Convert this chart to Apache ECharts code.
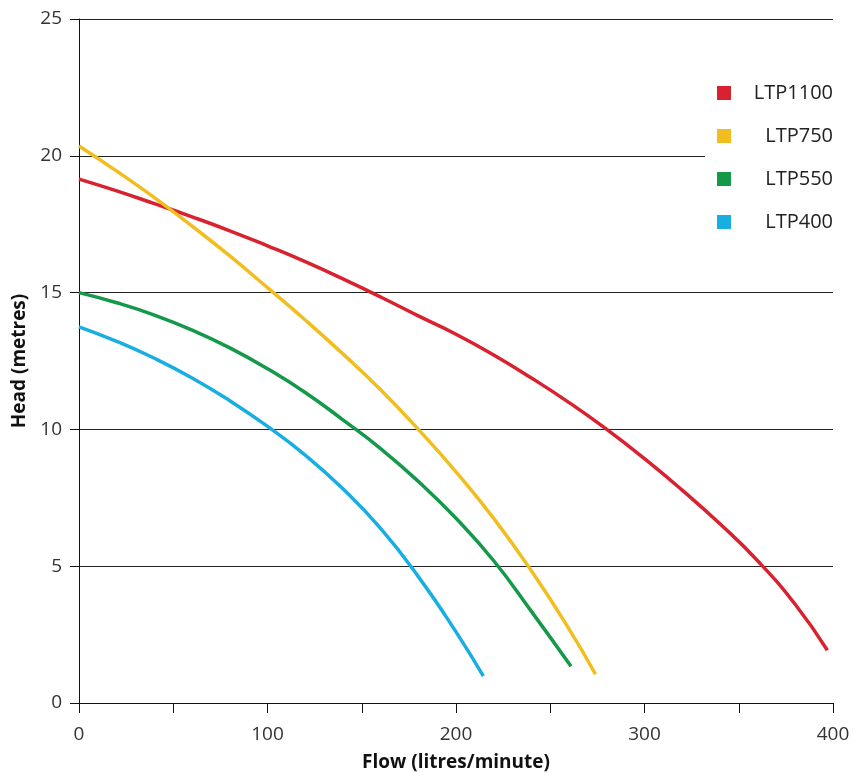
<!DOCTYPE html>
<html>
<head>
<meta charset="UTF-8">
<title>Pump curves</title>
<style>
  html, body { margin: 0; padding: 0; background: #fff; }
  #main { width: 856px; height: 773px; }
</style>
</head>
<body>
<div id="main"></div>
<script src="https://cdn.jsdelivr.net/npm/echarts@6/dist/echarts.min.js"></script>
<script>
// pump names (legend order)
var pumps = ['LTP1100', 'LTP750', 'LTP550', 'LTP400'];

// [flow (litres/minute), head (metres)]
var ltp1100 = [[0, 19.15], [20, 18.72], [40, 18.25], [60, 17.77], [80, 17.26], [100, 16.71],
               [120, 16.13], [140, 15.5], [160, 14.84], [180, 14.15], [200, 13.48], [220, 12.72],
               [240, 11.88], [260, 10.98], [280, 10.0], [300, 8.93], [320, 7.78], [340, 6.55],
               [360, 5.2], [380, 3.6], [397, 1.93]];
var ltp750  = [[0, 20.36], [20, 19.44], [40, 18.47], [60, 17.43], [80, 16.34], [100, 15.18],
               [120, 14.0], [140, 12.76], [160, 11.45], [180, 10.0], [200, 8.45], [220, 6.75],
               [240, 4.83], [260, 2.7], [274, 1.05]];
var ltp550  = [[0, 15.0], [20, 14.63], [40, 14.18], [60, 13.63], [80, 12.98], [100, 12.22],
               [120, 11.35], [140, 10.35], [160, 9.3], [180, 8.1], [200, 6.75], [220, 5.2],
               [240, 3.35], [261, 1.34]];
var ltp400  = [[0, 13.75], [20, 13.22], [40, 12.6], [60, 11.88], [80, 11.05], [100, 10.11],
               [120, 9.06], [140, 7.83], [160, 6.38], [180, 4.62], [200, 2.6], [214.5, 0.98]];

// axis ticks
var flowTicks = [0, 100, 200, 300, 400];
var headTicks = [0, 5, 10, 15, 20, 25];

var colors = ['#d8222f', '#f2bd1f', '#14994a', '#19aee2'];
var curves = [ltp1100, ltp750, ltp550, ltp400];

var font = 'Open Sans';
var chart = echarts.init(document.getElementById('main'));

var series = [];
for (var i = 0; i < pumps.length; i++) {
    series.push({
        name: pumps[i],
        type: 'line',
        data: curves[i],
        smooth: 0.5,
        showSymbol: false,
        lineStyle: { color: colors[i], width: 3.5 },
        itemStyle: { color: colors[i] }
    });
}

chart.setOption({
    animation: false,
    backgroundColor: '#fff',
    textStyle: { fontFamily: font },
    grid: { left: 79, right: 23, top: 19, bottom: 70, outerBoundsMode: 'none', containLabel: false },
    legend: {
        orient: 'vertical',
        right: 15,
        top: 63,
        padding: [20, 8, 20, 12],
        backgroundColor: '#fff',
        itemWidth: 14,
        itemHeight: 14,
        itemGap: 23,
        icon: 'rect',
        data: pumps,
        formatter: '{n|{name}}',
        textStyle: {
            rich: {
                n: { width: 97, align: 'right', fontSize: 20, lineHeight: 24, color: '#222', fontFamily: font }
            }
        }
    },
    xAxis: {
        type: 'value',
        min: 0,
        max: 400,
        interval: 50,
        name: 'Flow (litres/minute)',
        nameLocation: 'middle',
        nameGap: 50,
        nameTextStyle: { fontSize: 19, fontWeight: 'bold', color: '#111', fontFamily: font },
        axisLine: { show: true, lineStyle: { color: '#111', width: 1 } },
        axisTick: { show: true, length: 10, lineStyle: { color: '#111' } },
        axisLabel: {
            fontSize: 19, color: '#333', margin: 22,
            formatter: function (v) { return flowTicks.indexOf(v) >= 0 ? String(v) : ''; }
        },
        splitLine: { show: false }
    },
    yAxis: {
        type: 'value',
        min: 0,
        max: 25,
        interval: 5,
        name: 'Head (metres)',
        nameLocation: 'middle',
        nameGap: 43,
        nameTextStyle: { fontSize: 19, fontWeight: 'bold', color: '#111', fontFamily: font },
        axisLine: { show: true, lineStyle: { color: '#111', width: 1 } },
        axisTick: { show: true, length: 9, lineStyle: { color: '#111' } },
        axisLabel: {
            fontSize: 19, color: '#333', margin: 17,
            formatter: function (v) { return headTicks.indexOf(v) >= 0 ? String(v) : ''; }
        },
        splitLine: { show: true, lineStyle: { color: '#222', width: 1 } }
    },
    series: series
});
</script>
</body>
</html>
